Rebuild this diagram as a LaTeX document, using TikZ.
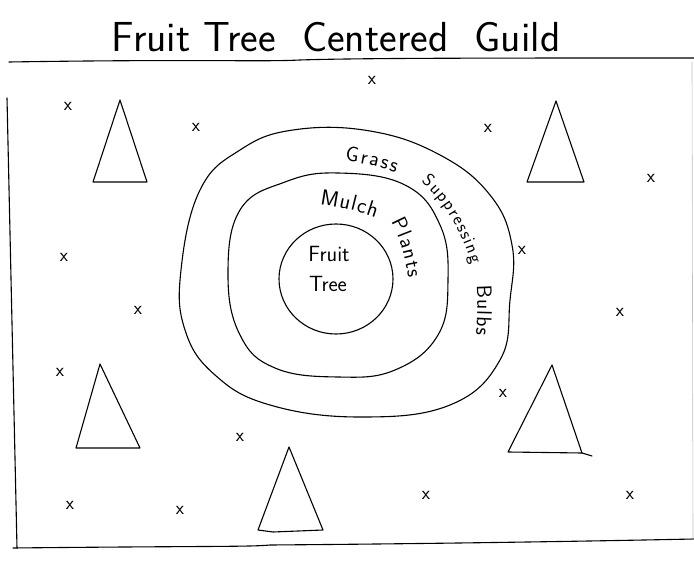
\documentclass[tikz,border=0pt]{standalone}
\usetikzlibrary{decorations.text}
\begin{document}
\begin{tikzpicture}[x=1pt,y=-1pt,
  pen/.style={line width=1.1pt, line join=round, line cap=round},
  hand/.style={font=\sffamily},
  xmark/.style={inner sep=0pt, font=\sffamily\fontsize{19}{19}\selectfont},
  curvetext/.style={decorate, decoration={text along path, text align=center, text={#1}}}]
\useasboundingbox (0,0) rectangle (694,561);
% title
\node[hand, font=\sffamily\fontsize{42}{46}\selectfont] (title) at (336,37) {Fruit\ Tree\ \ Centered\ \ Guild};
% frame
\draw[pen] (9,62) .. controls (200,59) and (260,62) .. (300,60) .. controls (360,58) and (500,58) .. (694,58);
\draw[pen] (7,98) -- (17,548);
\draw[pen] (13,548) .. controls (200,546) and (250,547) .. (270,545) .. controls (400,544) and (550,542) .. (694,539);
\draw[line width=0.6pt, black!25] (692,62) -- (693,540);
% triangles
\draw[pen] (120,100) -- (93,182) -- (147,182) -- cycle;
\draw[pen] (556,101) -- (527,182) -- (584,182) -- cycle;
\draw[pen] (100,364) -- (76,448) -- (140,448) -- cycle;
\draw[pen] (552,365) -- (508,452) -- (582,453) -- cycle;
\draw[pen] (582,453) -- (592,456);
\draw[pen] (289,447) -- (258,530) -- (273,532) -- (323,530) -- cycle;
% x marks
\foreach \p [count=\i] in {(372,80),(68,106),(196,127),(488,128),(651,178),(64,257),(522,250),(138,310),(620,312),(60,372),(503,393),(240,437),(426,495),(630,495),(70,505),(180,510)}
  \node[xmark] (x\i) at \p {x};
% circles
\draw[pen] (336,279) ellipse [x radius=57, y radius=55];
\draw[pen] plot[smooth cycle, tension=0.7] coordinates {(338,173) (405,185) (440,225) (448,280) (438,335) (395,370) (338,377) (275,368) (240,335) (228,275) (240,210) (285,182)};
\draw[pen] plot[smooth cycle, tension=0.7] coordinates {(293,130) (370,131) (440,155) (490,195) (512,245) (510,300) (500,360) (450,405) (360,417) (270,405) (215,375) (185,330) (181,270) (200,190) (240,150)};
% labels
\node[hand, font=\sffamily\fontsize{22}{22}\selectfont] (fruit) at (329,254) {Fruit};
\node[hand, font=\sffamily\fontsize{22}{22}\selectfont] (tree) at (328,284) {Tree};
\path[curvetext={|\sffamily\fontsize{22}{22}\selectfont|M{\kern1pt}u{\kern1pt}l{\kern1pt}c{\kern1pt}h}] (310,203) .. controls (335,206) and (360,211) .. (385,221);
\path[curvetext={|\sffamily\fontsize{21}{21}\selectfont|P{\kern1.5pt}l{\kern1.5pt}a{\kern1.5pt}n{\kern1.5pt}t{\kern1.5pt}s}] (384,210) .. controls (399,233) and (406,255) .. (410,292);
\path[curvetext={|\sffamily\fontsize{21}{21}\selectfont|G{\kern2pt}r{\kern2pt}a{\kern2pt}s{\kern2pt}s}] (332,160) .. controls (352,161) and (380,166) .. (408,177);
\path[curvetext={|\sffamily\fontsize{18}{18}\selectfont|S{\kern1.5pt}u{\kern1.5pt}p{\kern1.5pt}p{\kern1.5pt}r{\kern1.5pt}e{\kern1.5pt}s{\kern1.5pt}s{\kern1.5pt}i{\kern1.5pt}n{\kern1.5pt}g}] (408,172) .. controls (438,192) and (462,225) .. (476,280);
\path[curvetext={|\sffamily\fontsize{21}{21}\selectfont|B{\kern1pt}u{\kern1pt}l{\kern1pt}b{\kern1pt}s}] (476,276) .. controls (478,295) and (478,320) .. (475,345);
\end{tikzpicture}
\end{document}
